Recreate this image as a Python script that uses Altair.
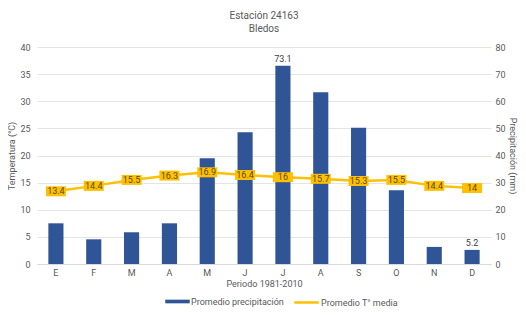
import altair as alt
import pandas as pd

meses = ["E", "F", "M", "A", "M", "J", "J", "A", "S", "O", "N", "D"]
precipitacion = [15.0, 9.1, 11.7, 15.0, 39.0, 48.6, 73.1, 63.3, 50.2, 27.2, 6.3, 5.2]
temperatura = [13.4, 14.4, 15.5, 16.3, 16.9, 16.4, 16.0, 15.7, 15.3, 15.5, 14.4, 14.0]
etiqueta_precip = ["", "", "", "", "", "", "73.1", "", "", "", "", "5.2"]
etiqueta_temp = ["13.4", "14.4", "15.5", "16.3", "16.9", "16.4", "16", "15.7", "15.3", "15.5", "14.4", "14"]

df = pd.DataFrame({
    "idx": list(range(12)),
    "precip": precipitacion,
    "temp": temperatura,
    "lab_p": etiqueta_precip,
    "lab_t": etiqueta_temp,
    "serie_p": ["Promedio precipitación"] * 12,
    "serie_t": ["Promedio T° media"] * 12,
})

FONT = "Roboto"
GRAY = "#595959"
BLUE = "#2F5597"
YELLOW = "#FFC000"

label_expr = "['E','F','M','A','M','J','J','A','S','O','N','D'][datum.value]"

x = alt.X(
    "idx:O",
    title="Periodo 1981-2010",
    scale=alt.Scale(paddingInner=0.6, paddingOuter=0.3),
    axis=alt.Axis(labelExpr=label_expr, labelAngle=0, ticks=False, domain=True,
                  domainColor="#D9D9D9", labelPadding=4, titlePadding=2),
)

base = alt.Chart(df)

y_p = alt.Y("precip:Q", scale=alt.Scale(domain=[0, 80]),
            axis=alt.Axis(orient="right", title="Precipitación (mm)", values=list(range(0, 81, 10)),
                          grid=False, ticks=False, domain=False, labelPadding=4, titlePadding=2))

bars = base.mark_bar(color=BLUE).encode(
    fill=alt.Fill("serie_p:N", scale=alt.Scale(range=[BLUE]),
                  legend=alt.Legend(title=None, orient="none", legendX=128, legendY=242,
                                    symbolType="M-1,-0.15H1V0.15H-1Z", symbolSize=600,
                                    symbolStrokeWidth=0, labelOffset=1)),
)
bar_text = base.mark_text(dy=-7, fontSize=9, color="#404040", font=FONT).encode(
    text="lab_p:N",
)
precip_layer = alt.layer(bars, bar_text).encode(x=x, y=y_p)

y_t = alt.Y("temp:Q", scale=alt.Scale(domain=[0, 40]),
            axis=alt.Axis(orient="left", title="Temperatura (°C)", values=list(range(0, 41, 5)),
                          grid=True, gridColor="#E4E4E4", ticks=False, domain=False,
                          labelPadding=7, titlePadding=3))

line = base.mark_line(strokeWidth=2.5).encode(
    stroke=alt.Stroke("serie_t:N", scale=alt.Scale(range=[YELLOW]),
                      legend=alt.Legend(title=None, orient="none", legendX=256, legendY=242,
                                        symbolType="stroke", symbolSize=600,
                                        symbolStrokeWidth=2.5, labelOffset=1)),
)
boxes = base.mark_point(
    shape="M-1,-0.5H1V0.5H-1Z", size=400, filled=True, fill=YELLOW, opacity=1, strokeWidth=0
)
temp_text = base.mark_text(fontSize=9, color="#5a4a1a", font=FONT).encode(
    text="lab_t:N",
)
temp_layer = alt.layer(line, boxes, temp_text).encode(x=x, y=y_t)

chart = alt.layer(precip_layer, temp_layer).resolve_scale(
    y="independent", fill="independent", stroke="independent"
).properties(
    width=454,
    height=217,
    autosize=alt.AutoSizeParams(type="none"),
    padding={"left": 29, "top": 39, "right": 27, "bottom": 43},
    title=alt.TitleParams(text=["Estación 24163", "Bledos"], fontSize=10, font=FONT,
                          fontWeight="normal", color=GRAY, anchor="middle", offset=9,
                          lineHeight=13),
).configure_view(stroke=None).configure_axis(
    labelFont=FONT, titleFont=FONT, labelFontSize=9, titleFontSize=9,
    labelColor=GRAY, titleColor=GRAY, titleFontWeight="normal",
).configure_legend(
    labelFont=FONT, labelFontSize=9, labelColor=GRAY,
)

chart.save("out.html", embed_options={"renderer": "svg", "actions": False})
